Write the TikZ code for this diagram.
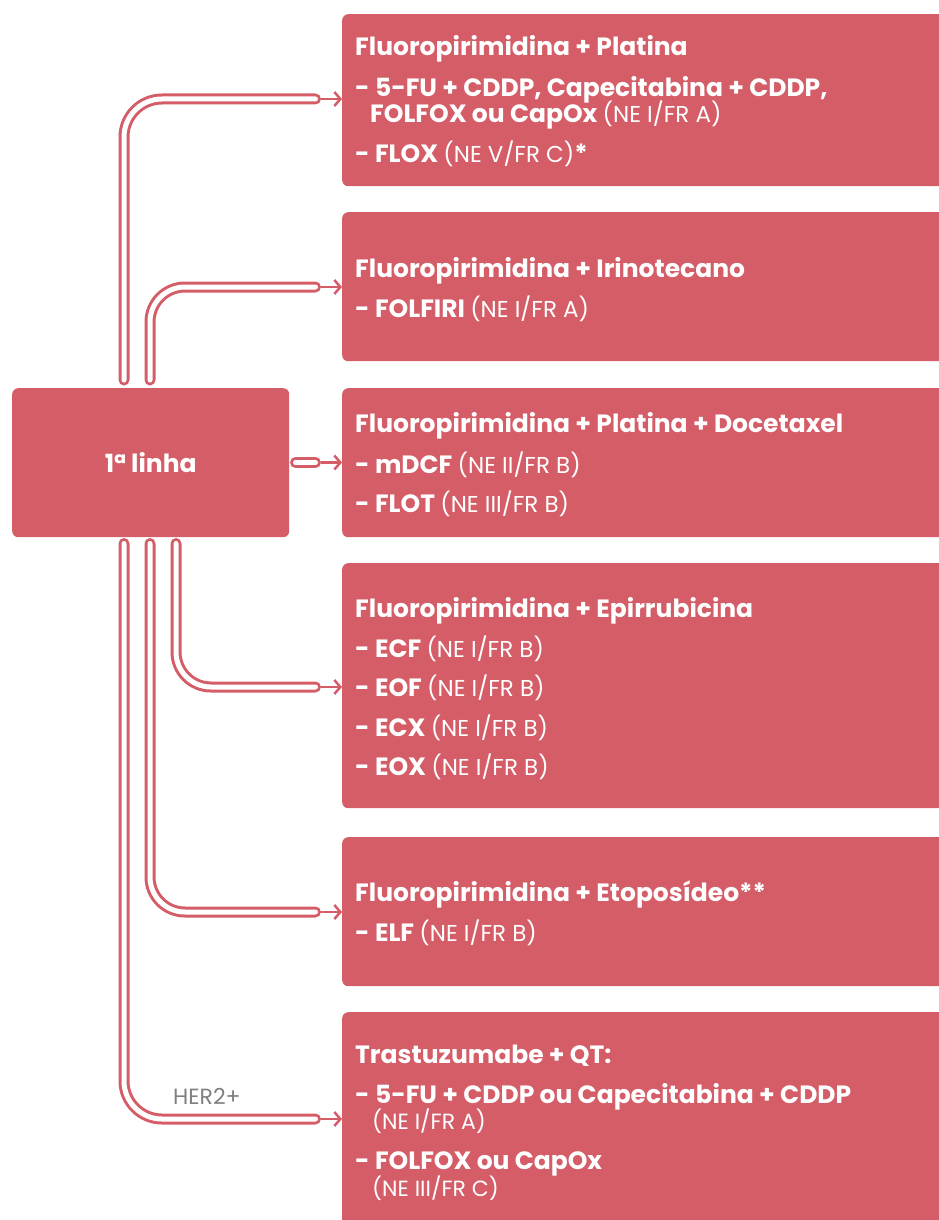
\documentclass[tikz,border=0pt]{standalone}
\usepackage{fontspec}
\setmainfont{Poppins}
\usetikzlibrary{arrows.meta}
\definecolor{rose}{RGB}{212,93,103}
\definecolor{herg}{RGB}{128,128,128}
\newcommand\nfo[1]{{\mdseries\fontsize{23}{27}\selectfont #1}}
\newcommand\nfs[1]{{\mdseries\fontsize{22}{26}\selectfont #1}}
\begin{document}
\begin{tikzpicture}[x=1pt,y=-1pt,
 box/.style={fill=rose, rounded corners=6pt, inner sep=0pt, anchor=north west, minimum width=640pt},
 txt/.style={text=white, inner sep=0pt, anchor=base west, font=\fontsize{25}{29}\selectfont\bfseries},
 pipe/.style={draw=rose, line width=3pt, double=white, double distance=5pt, line cap=round, rounded corners=35pt},
 arr/.style={draw=rose, line width=2.5pt, -{Straight Barb[length=6pt,width=14pt]}}]
\useasboundingbox (0,0) rectangle (939,1220);
\clip (0,0) rectangle (939,1220);
% boxes
\node[box, minimum height=172pt] (b1) at (342,14) {};
\node[box, minimum height=149pt] (b2) at (342,212) {};
\node[box, minimum height=149pt] (b3) at (342,388) {};
\node[box, minimum height=245pt] (b4) at (342,563) {};
\node[box, minimum height=149pt] (b5) at (342,837) {};
\node[box, minimum height=240pt] (b6) at (342,1012) {};
\node[box, minimum width=277pt, minimum height=149pt] (lb) at (12,388) {};
\node[text=white, inner sep=0pt, font=\fontsize{25}{29}\selectfont\bfseries] (lbt) at (lb.center) {1ª linha};
% texts box 1
\node[txt] (t11) at (355,56) {Fluoropirimidina + Platina};
\node[txt] (t12) at (355,97) {- 5-FU + CDDP, Capecitabina + CDDP,};
\node[txt] (t13) at (370,123) {FOLFOX ou CapOx \nfo{(NE I/FR A)}};
\node[txt] (t14) at (355,162) {- FLOX \nfo{(NE V/FR C)}*};
% box 2
\node[txt] (t21) at (355,277) {Fluoropirimidina + Irinotecano};
\node[txt] (t22) at (355,317) {- FOLFIRI \nfo{(NE I/FR A)}};
% box 3
\node[txt] (t31) at (355,432) {Fluoropirimidina + Platina + Docetaxel};
\node[txt] (t32) at (355,473) {- mDCF \nfo{(NE II/FR B)}};
\node[txt] (t33) at (355,512) {- FLOT \nfo{(NE III/FR B)}};
% box 4
\node[txt] (t41) at (355,617) {Fluoropirimidina + Epirrubicina};
\node[txt] (t42) at (355,657) {- ECF \nfo{(NE I/FR B)}};
\node[txt] (t43) at (355,696) {- EOF \nfo{(NE I/FR B)}};
\node[txt] (t44) at (355,736) {- ECX \nfo{(NE I/FR B)}};
\node[txt] (t45) at (355,775) {- EOX \nfo{(NE I/FR B)}};
% box 5
\node[txt] (t51) at (355,901) {Fluoropirimidina + Etoposídeo**};
\node[txt] (t52) at (355,941) {- ELF \nfo{(NE I/FR B)}};
% box 6
\node[txt] (t61) at (355,1063) {Trastuzumabe + QT:};
\node[txt] (t62) at (355,1103) {- 5-FU + CDDP ou Capecitabina + CDDP};
\node[txt] (t63) at (372,1129) {\nfs{(NE I/FR A)}};
\node[txt] (t64) at (355,1169) {- FOLFOX ou CapOx};
\node[txt] (t65) at (372,1196) {\nfs{(NE III/FR C)}};
% connectors
\coordinate (s1) at (124,380); \coordinate (e1) at (315.5,99);
\coordinate (s2) at (150,380); \coordinate (e2) at (315.5,287);
\coordinate (s3) at (295.5,462.5); \coordinate (e3) at (315.5,462.5);
\coordinate (s4) at (176,543.5); \coordinate (e4) at (315.5,687);
\coordinate (s5) at (150,543.5); \coordinate (e5) at (315.5,912);
\coordinate (s6) at (124,543.5); \coordinate (e6) at (315.5,1119);
\draw[pipe, rounded corners=38pt] (s1) |- (e1);
\draw[pipe] (s2) |- (e2);
\draw[pipe] (s3) -- (e3);
\draw[pipe] (s4) |- (e4);
\draw[pipe] (s5) |- (e5);
\draw[pipe, rounded corners=38pt] (s6) |- (e6);
\foreach \e/\b in {e1/b1,e2/b2,e3/b3,e4/b4,e5/b5,e6/b6}
  \draw[arr] ([xshift=5.5pt]\e) -- (\e -| \b.west);
\node[text=herg, inner sep=0pt, anchor=base west, font=\fontsize{22}{26}\selectfont] (her) at (173,1104) {HER2+};
\end{tikzpicture}
\end{document}
